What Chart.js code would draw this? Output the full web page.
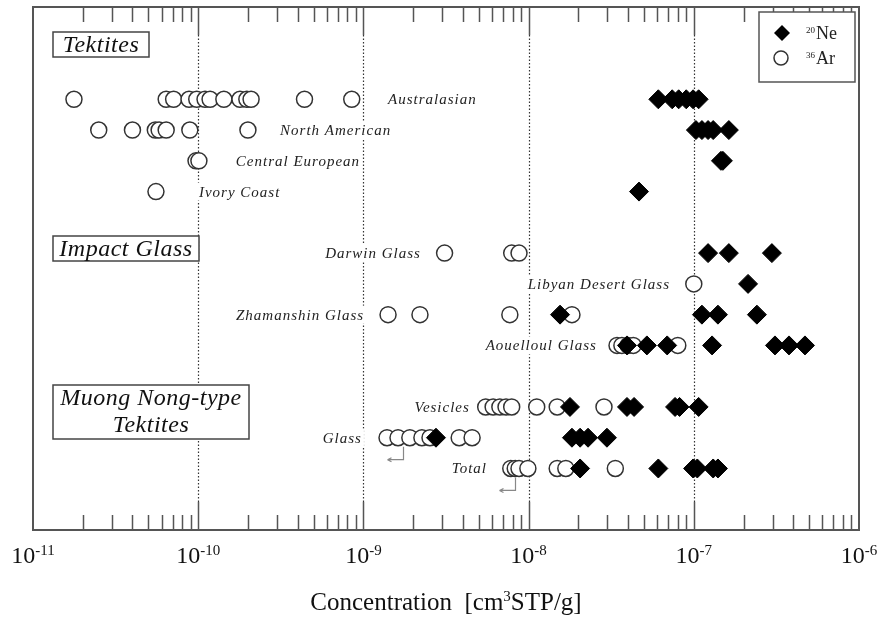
<!DOCTYPE html>
<html>
<head>
<meta charset="utf-8">
<script src="https://cdn.jsdelivr.net/npm/chart.js@4.4.1/dist/chart.umd.min.js"></script>
<style>
    html, body { margin: 0; padding: 0; background: #ffffff; }
    #wrap { width: 880px; height: 617px; }
</style>
</head>
<body>
<div id="wrap"><canvas id="gasChart" width="880" height="617"></canvas></div>
<script>
// Rows of the figure from top to bottom, empty strings are spacer rows
const rows = ['', '', '', 'Australasian', 'North American', 'Central European', 'Ivory Coast', '',
    'Darwin Glass', 'Libyan Desert Glass', 'Zhamanshin Glass', 'Aouelloul Glass', '',
    'Vesicles', 'Glass', 'Total', '', ''];

const samples = ['Australasian', 'North American', 'Central European', 'Ivory Coast',
    'Darwin Glass', 'Libyan Desert Glass', 'Zhamanshin Glass', 'Aouelloul Glass',
    'Vesicles', 'Glass', 'Total'];

// 36Ar concentrations [cm3 STP/g], one list per sample
const ar36 = [
    [1.77e-11, 6.4e-11, 7.1e-11, 8.8e-11, 9.8e-11, 1.10e-10, 1.18e-10, 1.43e-10, 1.79e-10, 1.97e-10, 2.09e-10, 4.4e-10, 8.5e-10],
    [2.5e-11, 4.0e-11, 5.5e-11, 5.8e-11, 6.4e-11, 8.9e-11, 2.0e-10],
    [9.7e-11, 1.01e-10],
    [5.55e-11],
    [3.1e-9, 7.9e-9, 8.75e-9],
    [1.0e-7],
    [1.41e-9, 2.2e-9, 7.7e-9, 1.83e-8],
    [3.43e-8, 3.67e-8, 4.0e-8, 4.3e-8, 8.0e-8],
    [5.5e-9, 6.1e-9, 6.7e-9, 7.3e-9, 7.9e-9, 1.12e-8, 1.49e-8, 2.86e-8],
    [1.39e-9, 1.62e-9, 1.91e-9, 2.26e-9, 2.53e-9, 3.8e-9, 4.55e-9],
    [7.8e-9, 8.3e-9, 8.75e-9, 9.9e-9, 1.49e-8, 1.68e-8, 3.35e-8]
];

// 20Ne concentrations [cm3 STP/g], one list per sample
const ne20 = [
    [6.1e-8, 7.4e-8, 8.1e-8, 9.0e-8, 9.9e-8, 1.07e-7],
    [1.03e-7, 1.12e-7, 1.22e-7, 1.31e-7, 1.63e-7],
    [1.46e-7, 1.50e-7],
    [4.66e-8],
    [1.22e-7, 1.63e-7, 2.97e-7],
    [2.13e-7],
    [1.55e-8, 1.12e-7, 1.40e-7, 2.41e-7],
    [3.94e-8, 5.2e-8, 6.9e-8, 1.29e-7, 3.1e-7, 3.77e-7, 4.71e-7],
    [1.78e-8, 3.94e-8, 4.35e-8, 7.7e-8, 8.2e-8, 1.07e-7],
    [2.75e-9, 1.83e-8, 2.05e-8, 2.29e-8, 2.98e-8],
    [2.05e-8, 6.1e-8, 9.9e-8, 1.05e-7, 1.31e-7, 1.40e-7]
];

// axis decades and exponents shown under them
const decades = [1e-11, 1e-10, 1e-9, 1e-8, 1e-7, 1e-6];
const exponents = ['-11', '-10', '-9', '-8', '-7', '-6'];

// where each sample name sits (concentration value) and which side it hangs from
const labelAnchor = [1.41e-9, 3.13e-10, 1.69e-10, 1.01e-10, 2.23e-9, 7.18e-8, 1.01e-9, 2.59e-8, 4.41e-9, 9.8e-10, 5.6e-9];
const labelAlign = ['left', 'left', 'left', 'left', 'right', 'right', 'right', 'right', 'right', 'right', 'right'];

// upper-limit arrows below some 36Ar points
const limitArrows = [
    { sample: 'Glass', at: 1.74e-9 },
    { sample: 'Total', at: 8.27e-9 }
];

const SERIF = "'Liberation Serif', 'Times New Roman', serif";

const nePoints = [];
const arPoints = [];
samples.forEach((name, i) => {
    ne20[i].forEach(v => nePoints.push({ x: v, y: name }));
    ar36[i].slice().sort((a, b) => a - b).forEach(v => arPoints.push({ x: v, y: name }));
});

function drawSup(ctx, base, sup, x, y, baseSize, supSize, align) {
    // draws "base" followed by a raised "sup"
    ctx.font = baseSize + 'px ' + SERIF;
    const wb = ctx.measureText(base).width;
    ctx.font = supSize + 'px ' + SERIF;
    const ws = ctx.measureText(sup).width;
    let left = x;
    if (align === 'center') left = x - (wb + ws) / 2;
    ctx.textAlign = 'left';
    ctx.textBaseline = 'alphabetic';
    ctx.font = baseSize + 'px ' + SERIF;
    ctx.fillText(base, left, y);
    ctx.font = supSize + 'px ' + SERIF;
    ctx.fillText(sup, left + wb, y - baseSize * 0.33);
}

const decorations = {
    id: 'decorations',
    beforeDatasetsDraw(chart) {
        const ctx = chart.ctx;
        const a = chart.chartArea;
        const xs = chart.scales.x;
        const ys = chart.scales.y;
        ctx.save();

        // dotted lines at the inner decades
        ctx.strokeStyle = '#333';
        ctx.lineWidth = 1.2;
        ctx.setLineDash([1.5, 2]);
        decades.slice(1, -1).forEach(v => {
            const px = Math.round(xs.getPixelForValue(v)) + 0.5;
            ctx.beginPath();
            ctx.moveTo(px, a.top + 28);
            ctx.lineTo(px, a.bottom - 28);
            ctx.stroke();
        });
        ctx.setLineDash([]);

        // ticks on bottom and top edges
        ctx.strokeStyle = '#555';
        ctx.lineWidth = 1.5;
        for (let d = 0; d < decades.length; d++) {
            const major = Math.round(xs.getPixelForValue(decades[d])) + 0.5;
            if (d > 0 && d < decades.length - 1) {
                ctx.beginPath();
                ctx.moveTo(major, a.bottom); ctx.lineTo(major, a.bottom - 28);
                ctx.moveTo(major, a.top); ctx.lineTo(major, a.top + 28);
                ctx.stroke();
            }
            if (d === decades.length - 1) break;
            for (let m = 2; m <= 9; m++) {
                const px = Math.round(xs.getPixelForValue(m * decades[d])) + 0.5;
                ctx.beginPath();
                ctx.moveTo(px, a.bottom); ctx.lineTo(px, a.bottom - 15);
                ctx.moveTo(px, a.top); ctx.lineTo(px, a.top + 15);
                ctx.stroke();
            }
        }

        // frame
        ctx.strokeStyle = '#555';
        ctx.lineWidth = 2;
        ctx.strokeRect(a.left, a.top, a.right - a.left, a.bottom - a.top);

        // tick labels
        ctx.fillStyle = '#111';
        decades.forEach((v, i) => {
            const px = xs.getPixelForValue(v);
            drawSup(ctx, '10', exponents[i], px, a.bottom + 33, 24, 15, 'center');
        });

        // axis title
        ctx.font = '25px ' + SERIF;
        const p1 = 'Concentration  [cm';
        const p3 = 'STP/g]';
        const w1 = ctx.measureText(p1).width;
        const w3 = ctx.measureText(p3).width;
        ctx.font = '15px ' + SERIF;
        const w2 = ctx.measureText('3').width;
        let tx = (a.left + a.right) / 2 - (w1 + w2 + w3) / 2;
        const ty = a.bottom + 80;
        ctx.textAlign = 'left';
        ctx.textBaseline = 'alphabetic';
        ctx.font = '25px ' + SERIF;
        ctx.fillText(p1, tx, ty);
        ctx.font = '15px ' + SERIF;
        ctx.fillText('3', tx + w1, ty - 9);
        ctx.font = '25px ' + SERIF;
        ctx.fillText(p3, tx + w1 + w2, ty);

        // sample names, with white behind them so the dotted lines break
        ctx.font = 'italic 15px ' + SERIF;
        ctx.letterSpacing = '1px';
        ctx.textBaseline = 'middle';
        samples.forEach((name, i) => {
            const px = xs.getPixelForValue(labelAnchor[i]);
            const py = ys.getPixelForValue(rows.indexOf(name));
            const w = ctx.measureText(name).width;
            const left = labelAlign[i] === 'left' ? px : px - w;
            ctx.fillStyle = '#fff';
            ctx.fillRect(left - 2, py - 9, w + 4, 18);
            ctx.fillStyle = '#222';
            ctx.textAlign = 'left';
            ctx.fillText(name, left, py + 1);
        });

        // group boxes
        const groups = [
            { lines: ['Tektites'], left: 20, top: 25, width: 96, height: 25 },
            { lines: ['Impact Glass'], left: 20, top: 229, width: 146, height: 25 },
            { lines: ['Muong Nong-type', 'Tektites'], left: 20, top: 378, width: 196, height: 54 }
        ];
        ctx.font = 'italic 24px ' + SERIF;
        ctx.letterSpacing = '0.5px';
        ctx.textAlign = 'center';
        ctx.textBaseline = 'alphabetic';
        groups.forEach(g => {
            const bx = a.left + g.left;
            const by = a.top + g.top;
            ctx.fillStyle = '#fff';
            ctx.fillRect(bx, by, g.width, g.height);
            ctx.strokeStyle = '#444';
            ctx.lineWidth = 1.5;
            ctx.strokeRect(bx, by, g.width, g.height);
            ctx.fillStyle = '#111';
            g.lines.forEach((t, k) => {
                ctx.fillText(t, bx + g.width / 2, by + 20 + k * 27);
            });
        });
        ctx.letterSpacing = '0px';
        ctx.restore();
    },
    afterDatasetsDraw(chart) {
        const ctx = chart.ctx;
        const a = chart.chartArea;
        const xs = chart.scales.x;
        const ys = chart.scales.y;
        ctx.save();

        // upper-limit arrows
        ctx.strokeStyle = '#888';
        ctx.lineWidth = 1.2;
        limitArrows.forEach(ar => {
            const px = Math.round(xs.getPixelForValue(ar.at)) + 0.5;
            const py = ys.getPixelForValue(rows.indexOf(ar.sample));
            ctx.beginPath();
            ctx.moveTo(px, py + 9);
            ctx.lineTo(px, py + 22);
            ctx.lineTo(px - 16, py + 22);
            ctx.moveTo(px - 16, py + 22);
            ctx.lineTo(px - 12, py + 20);
            ctx.moveTo(px - 16, py + 22);
            ctx.lineTo(px - 12, py + 24);
            ctx.stroke();
        });

        // legend box
        const lx = a.right - 100;
        const ly = a.top + 5;
        ctx.fillStyle = '#fff';
        ctx.fillRect(lx, ly, 96, 70);
        ctx.strokeStyle = '#555';
        ctx.lineWidth = 1.5;
        ctx.strokeRect(lx, ly, 96, 70);

        ctx.fillStyle = '#000';
        ctx.beginPath();
        ctx.moveTo(lx + 23 - 8, ly + 21);
        ctx.lineTo(lx + 23, ly + 13);
        ctx.lineTo(lx + 23 + 8, ly + 21);
        ctx.lineTo(lx + 23, ly + 29);
        ctx.closePath();
        ctx.fill();

        ctx.strokeStyle = '#333';
        ctx.lineWidth = 1.5;
        ctx.beginPath();
        ctx.arc(lx + 22, ly + 46, 7, 0, Math.PI * 2);
        ctx.stroke();

        ctx.fillStyle = '#222';
        drawSup(ctx, '', '20', lx + 47, ly + 27, 17, 9, 'left');
        drawSup(ctx, '', '36', lx + 47, ly + 52, 17, 9, 'left');
        ctx.font = '18px ' + SERIF;
        ctx.fillText('Ne', lx + 57, ly + 27);
        ctx.fillText('Ar', lx + 57, ly + 52);
        ctx.restore();
    }
};

const ctx = document.getElementById('gasChart').getContext('2d');
const chart = new Chart(ctx, {
    type: 'scatter',
    data: {
        datasets: [{
            label: '20Ne',
            data: nePoints,
            pointStyle: 'rectRot',
            pointRadius: 9.5,
            backgroundColor: '#000',
            borderColor: '#000',
            borderWidth: 1
        }, {
            label: '36Ar',
            data: arPoints,
            pointStyle: 'circle',
            pointRadius: 8,
            backgroundColor: '#fff',
            borderColor: '#333',
            borderWidth: 1.5
        }]
    },
    options: {
        responsive: false,
        devicePixelRatio: 1,
        animation: false,
        layout: {
            autoPadding: false,
            padding: { left: 33, right: 21, top: 7, bottom: 87 }
        },
        plugins: {
            legend: { display: false },
            tooltip: { enabled: false }
        },
        scales: {
            x: {
                type: 'logarithmic',
                min: 1e-11,
                max: 1e-6,
                display: false
            },
            y: {
                type: 'category',
                labels: rows,
                offset: false,
                display: false
            }
        }
    },
    plugins: [decorations]
});
</script>
</body>
</html>
